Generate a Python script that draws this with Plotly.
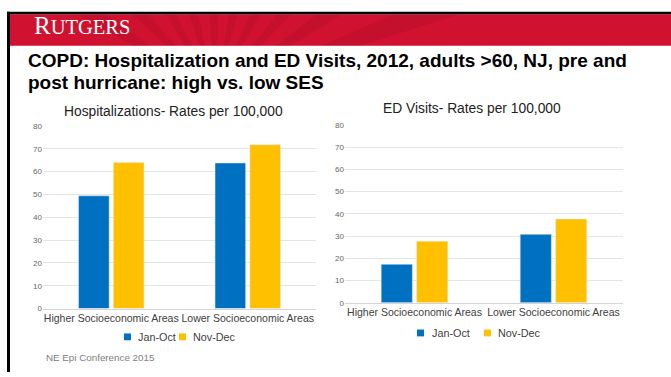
import math
import plotly.graph_objects as go

# ---- data -------------------------------------------------------------
categories = ["Higher Socioeconomic Areas", "Lower Socioeconomic Areas"]
series_names = ["Jan-Oct", "Nov-Dec"]
hosp_jan_oct = [49.4, 63.8]
hosp_nov_dec = [64.0, 71.8]
ed_jan_oct = [17.3, 30.8]
ed_nov_dec = [27.7, 37.7]
y_ticks = [0, 10, 20, 30, 40, 50, 60, 70, 80]

# ---- styling ------------------------------------------------------------
W, H = 671, 377
BLUE = "#0070c0"
GOLD = "#ffc000"
SCARLET = "#d01230"
FONT = "Liberation Sans, Arial, sans-serif"
colors = [BLUE, GOLD]


def px(x):
    return x / W


def py(y):
    return 1 - y / H


fig = go.Figure()

# Hospitalizations (left panel)
for name, vals, col in zip(series_names, [hosp_jan_oct, hosp_nov_dec], colors):
    fig.add_trace(go.Bar(x=categories, y=vals, name=name, marker_color=col,
                         xaxis="x", yaxis="y", showlegend=False))
# ED visits (right panel)
for name, vals, col in zip(series_names, [ed_jan_oct, ed_nov_dec], colors):
    fig.add_trace(go.Bar(x=categories, y=vals, name=name, marker_color=col,
                         xaxis="x2", yaxis="y2", showlegend=False))

axis_y = dict(range=[0, 80], tickvals=y_ticks, showgrid=True, gridcolor="#e4e4e4",
              gridwidth=1, zeroline=False, showline=False, ticks="",
              tickfont=dict(size=8, color="#666666", family=FONT), fixedrange=True)
axis_x = dict(showgrid=False, showline=True, linecolor="#d4d4d4", linewidth=1,
              ticks="", tickfont=dict(size=10.5, color="#404040", family=FONT),
              fixedrange=True)

fig.update_layout(
    width=W, height=H,
    margin=dict(l=0, r=0, t=0, b=0),
    paper_bgcolor="white", plot_bgcolor="white",
    barmode="group", bargap=0.49, bargroupgap=0.12,
    font=dict(family=FONT),
    showlegend=False,
    xaxis=dict(axis_x, domain=[px(43), px(316)], anchor="y"),
    yaxis=dict(axis_y, domain=[py(312), py(125)], anchor="x"),
    xaxis2=dict(axis_x, domain=[px(345), px(623)], anchor="y2"),
    yaxis2=dict(axis_y, domain=[py(306), py(124)], anchor="x2"),
)

shapes = []
ann = []
band_top, band_bot = 10.5, 42.7
# scarlet header band
shapes.append(dict(type="rect", xref="paper", yref="paper", x0=px(7), x1=1,
                   y0=py(band_bot), y1=py(band_top), fillcolor=SCARLET,
                   line=dict(width=0), layer="below"))
# faint radiating pattern inside the band
cx, cy = 215, 90
for a0 in range(-150, -20, 14):
    a1 = a0 + 6
    pts = []
    for ang, yy in [(a0, band_bot), (a0, band_top), (a1, band_top), (a1, band_bot)]:
        t = math.radians(ang)
        dy = yy - cy
        xx = cx + dy * math.cos(t) / math.sin(t)
        xx = min(max(xx, 7), W)
        pts.append((px(xx), py(yy)))
    path = "M" + " L".join(f"{a},{b}" for a, b in pts) + " Z"
    shapes.append(dict(type="path", xref="paper", yref="paper", path=path,
                       fillcolor="rgba(110,0,20,0.10)", line=dict(width=0),
                       layer="below"))
# dark slide frame (top and left edges)
shapes.append(dict(type="rect", xref="paper", yref="paper", x0=px(7), x1=1,
                   y0=py(10.5), y1=py(8), fillcolor="black", line=dict(width=0)))
shapes.append(dict(type="rect", xref="paper", yref="paper", x0=px(7), x1=px(10),
                   y0=0, y1=py(8), fillcolor="black", line=dict(width=0)))

# compact legends under each panel: (swatch left edges, text left edges, centre y)
legend_rows = [
    ([124, 179], [136, 191], 341),
    ([417, 484], [430, 496], 337),
]
for swatch_x, text_x, yc in legend_rows:
    for name, col, sx, tx in zip(series_names, colors, swatch_x, text_x):
        shapes.append(dict(type="rect", xref="paper", yref="paper",
                           x0=px(sx), x1=px(sx + 7), y0=py(yc + 3.5), y1=py(yc - 3.5),
                           fillcolor=col, line=dict(width=0)))
        ann.append(dict(text=name, x=px(tx), y=py(yc), xref="paper", yref="paper",
                        xanchor="left", yanchor="middle", showarrow=False,
                        font=dict(family=FONT, size=10.8, color="#404040")))
fig.update_layout(shapes=shapes)

# wordmark in the header band
ann.append(dict(text="<span style='font-size:25px'>R</span>UTGERS",
                x=px(32), y=py(37.5), xref="paper", yref="paper", xanchor="left",
                yanchor="bottom", showarrow=False,
                font=dict(family="Liberation Serif, DejaVu Serif, serif", size=20.5,
                          color="white")))
# slide title, one annotation per line
title_lines = ["COPD: Hospitalization and ED Visits, 2012, adults >60, NJ, pre and",
               "post hurricane: high vs. low SES"]
for line, yc in zip(title_lines, [58, 80]):
    ann.append(dict(text=f"<b>{line}</b>", x=px(26), y=py(yc), xref="paper",
                    yref="paper", xanchor="left", yanchor="middle", showarrow=False,
                    font=dict(family=FONT, size=19, color="black")))
# panel titles
ann.append(dict(text="Hospitalizations- Rates per 100,000", x=px(173), y=py(110),
                xref="paper", yref="paper", xanchor="center", yanchor="middle",
                showarrow=False, font=dict(family=FONT, size=13.8, color="#222222")))
ann.append(dict(text="ED Visits- Rates per 100,000", x=px(472), y=py(107),
                xref="paper", yref="paper", xanchor="center", yanchor="middle",
                showarrow=False, font=dict(family=FONT, size=13.8, color="#222222")))
# footer
ann.append(dict(text="NE Epi Conference 2015", x=px(44), y=py(362),
                xref="paper", yref="paper", xanchor="left", yanchor="middle",
                showarrow=False, font=dict(family=FONT, size=9.8, color="#808080")))
fig.update_layout(annotations=ann)

fig.write_html("out.html", config={"displayModeBar": False})
